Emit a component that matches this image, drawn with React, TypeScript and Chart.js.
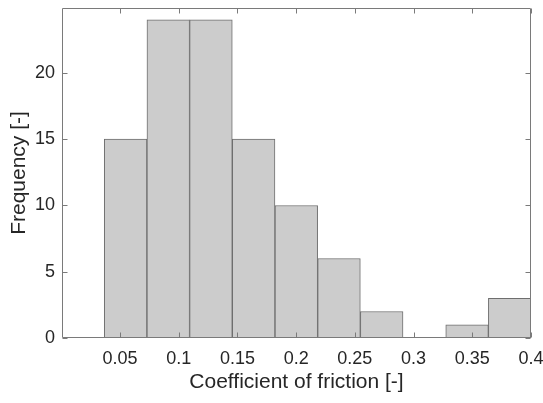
import React, { useEffect, useRef } from "react";
import { Chart, registerables } from "chart.js";

Chart.register(...registerables);

const binEdges = [0.0366, 0.0729, 0.1093, 0.1456, 0.182, 0.2183, 0.2547, 0.291, 0.3274, 0.3637, 0.4];
const counts = [15, 24, 24, 15, 10, 6, 2, 0, 1, 3];
const xTicks = [0.05, 0.1, 0.15, 0.2, 0.25, 0.3, 0.35, 0.4];
const yTicks = [0, 5, 10, 15, 20];
const xLabel = "Coefficient of friction [-]";
const yLabel = "Frequency [-]";

const W = 543;
const H = 403;
const FONT = "'Liberation Sans', Arial, Helvetica, sans-serif";
const TEXT = "#262626";
const AXIS = "#7a7a7a";

const framePlugin = {
  id: "frame",
  afterDatasetsDraw(chart: any) {
    const { ctx, chartArea: a, scales } = chart;
    ctx.save();
    ctx.strokeStyle = AXIS;
    ctx.lineWidth = 1;
    const l = Math.round(a.left) + 0.5;
    const r = Math.round(a.right) - 0.5;
    const t = Math.round(a.top) + 0.5;
    const b = Math.round(a.bottom) - 0.5;
    ctx.beginPath();
    ctx.rect(l, t, r - l, b - t);
    const len = 5;
    for (const v of xTicks) {
      const px = Math.round(scales.x.getPixelForValue(v)) + 0.5;
      ctx.moveTo(px, b);
      ctx.lineTo(px, b - len);
      ctx.moveTo(px, t);
      ctx.lineTo(px, t + len);
    }
    for (const v of yTicks) {
      const py = Math.round(scales.y.getPixelForValue(v)) + 0.5;
      ctx.moveTo(l, py);
      ctx.lineTo(l + len, py);
      ctx.moveTo(r, py);
      ctx.lineTo(r - len, py);
    }
    ctx.stroke();
    ctx.restore();
  },
};

export default function App() {
  const ref = useRef<HTMLCanvasElement>(null);
  useEffect(() => {
    const centers = counts.map((_, i) => (binEdges[i] + binEdges[i + 1]) / 2);
    const chart = new Chart(ref.current!, {
      type: "bar",
      data: {
        datasets: [
          {
            data: counts.map((c, i) => ({ x: centers[i], y: c })),
            backgroundColor: "#cccccc",
            borderColor: "#6e6e6e",
            borderWidth: 1,
            borderSkipped: false,
            barPercentage: 1,
            categoryPercentage: 1,
          },
        ],
      },
      options: {
        animation: false,
        responsive: false,
        devicePixelRatio: 1,
        layout: { padding: { left: 0, right: 12, top: 8, bottom: 0 } },
        plugins: { legend: { display: false }, tooltip: { enabled: false } },
        scales: {
          x: {
            type: "linear",
            min: 0.0006,
            max: 0.4,
            offset: false,
            grid: { display: false, drawTicks: false },
            border: { display: false },
            afterBuildTicks: (s: any) => {
              s.ticks = xTicks.map((v) => ({ value: v }));
            },
            afterFit: (s: any) => {
              s.height = H - 338;
              s.paddingLeft = 0;
              s.paddingRight = 0;
            },
            ticks: {
              color: TEXT,
              font: { family: FONT, size: 18 },
              padding: 10,
              maxRotation: 0,
              autoSkip: false,
              callback: (v: any) => String(+Number(v).toFixed(2)),
            },
            title: {
              display: true,
              text: xLabel,
              color: TEXT,
              font: { family: FONT, size: 21 },
              padding: { top: 0, bottom: 8 },
            },
          },
          y: {
            type: "linear",
            min: 0,
            max: 24.9,
            grid: { display: false, drawTicks: false },
            border: { display: false },
            afterBuildTicks: (s: any) => {
              s.ticks = yTicks.map((v) => ({ value: v }));
            },
            afterFit: (s: any) => {
              s.width = 62;
              s.paddingTop = 0;
              s.paddingBottom = 0;
            },
            ticks: {
              color: TEXT,
              font: { family: FONT, size: 18 },
              padding: 7,
              autoSkip: false,
            },
            title: {
              display: true,
              text: yLabel,
              color: TEXT,
              font: { family: FONT, size: 21 },
              padding: { top: 7, bottom: 0 },
            },
          },
        },
      },
      plugins: [framePlugin],
    });
    return () => chart.destroy();
  }, []);
  return (
    <div style={{ position: "fixed", left: 0, top: 0, width: W, height: H, background: "#fff" }}>
      <canvas ref={ref} width={W} height={H} style={{ display: "block", width: W, height: H }} />
    </div>
  );
}
